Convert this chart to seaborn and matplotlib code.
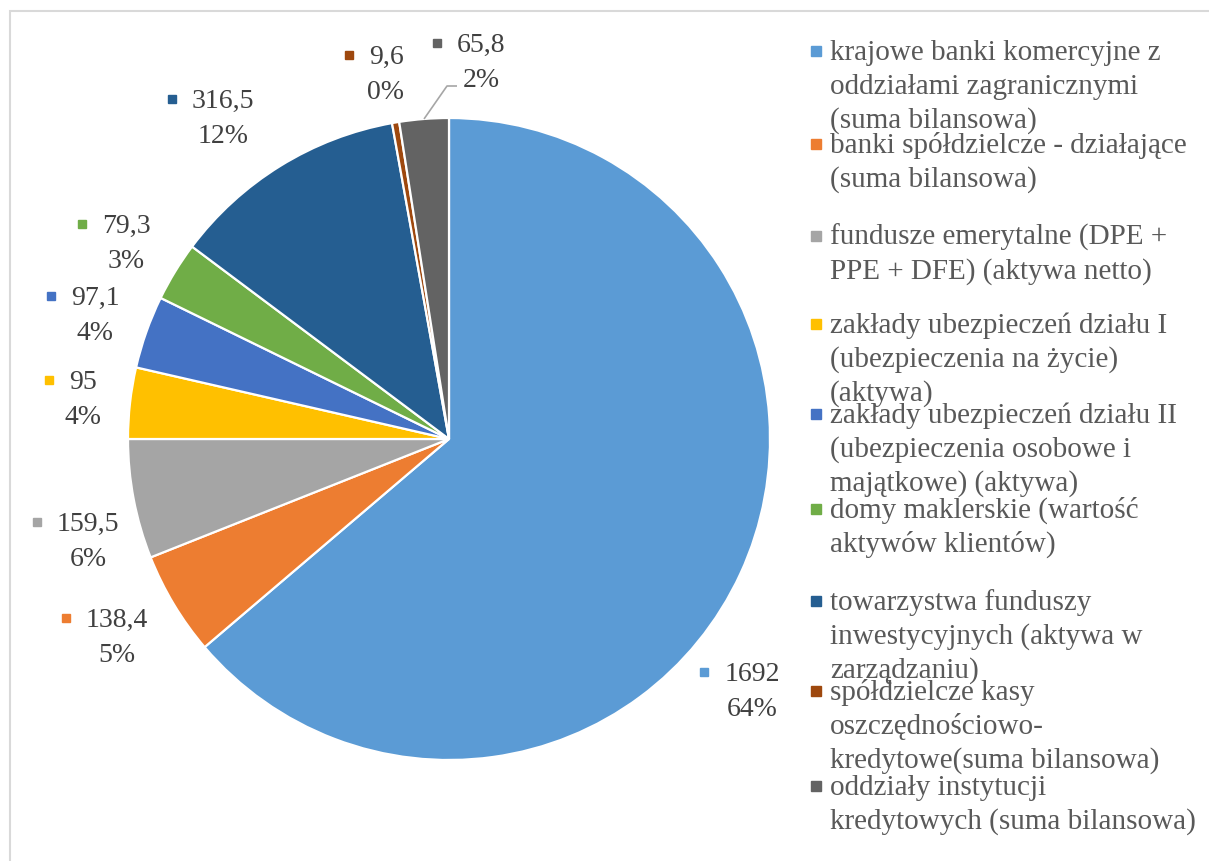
import matplotlib
matplotlib.use('Agg')
import matplotlib.pyplot as plt
import seaborn as sns
import numpy as np
from matplotlib.patches import Rectangle

# data (mld zł)
categories = [
    'krajowe banki komercyjne z oddziałami zagranicznymi (suma bilansowa)',
    'banki spółdzielcze - działające (suma bilansowa)',
    'fundusze emerytalne (DPE + PPE + DFE) (aktywa netto)',
    'zakłady ubezpieczeń działu I (ubezpieczenia na życie) (aktywa)',
    'zakłady ubezpieczeń działu II (ubezpieczenia osobowe i majątkowe) (aktywa)',
    'domy maklerskie (wartość aktywów klientów)',
    'towarzystwa funduszy inwestycyjnych (aktywa w zarządzaniu)',
    'spółdzielcze kasy oszczędnościowo-kredytowe(suma bilansowa)',
    'oddziały instytucji kredytowych (suma bilansowa)',
]
values = [1692, 138.4, 159.5, 95, 97.1, 79.3, 316.5, 9.6, 65.8]
colors = ['#5B9BD5', '#ED7D31', '#A5A5A5', '#FFC000', '#4472C4',
          '#70AD47', '#255E91', '#9E480E', '#636363']

# legend text wrapped like in the original
legend_lines = [
    ['krajowe banki komercyjne z', 'oddziałami zagranicznymi', '(suma bilansowa)'],
    ['banki spółdzielcze - działające', '(suma bilansowa)'],
    ['fundusze emerytalne (DPE +', 'PPE + DFE) (aktywa netto)'],
    ['zakłady ubezpieczeń działu I', '(ubezpieczenia na życie)', '(aktywa)'],
    ['zakłady ubezpieczeń działu II', '(ubezpieczenia osobowe i', 'majątkowe) (aktywa)'],
    ['domy maklerskie (wartość', 'aktywów klientów)'],
    ['towarzystwa funduszy', 'inwestycyjnych (aktywa w', 'zarządzaniu)'],
    ['spółdzielcze kasy', 'oszczędnościowo-', 'kredytowe(suma bilansowa)'],
    ['oddziały instytucji', 'kredytowych (suma bilansowa)'],
]

# layout (pixels from top-left)
W, H = 1209, 862
label_pos = [(752, 673), (117, 619), (88, 523), (83, 381), (95, 297),
             (126, 225), (223, 100), (386, 56), (481, 44)]
legend_y = [52, 145, 237, 325, 415, 510, 602, 692, 787]
line_h = 34

sns.set_theme(style='white')
plt.rcParams['font.family'] = ['Liberation Serif', 'DejaVu Serif']

fig = plt.figure(figsize=(W / 100, H / 100), dpi=100)
ax = fig.add_axes([0, 0, 1, 1])

cx0, cy0, R = 449, H - 440, 321
ax.pie(values, colors=colors, startangle=90, counterclock=False,
       center=(cx0, cy0), radius=R,
       wedgeprops=dict(edgecolor='white', linewidth=1.6))
ax.set_xlim(0, W)
ax.set_ylim(0, H)
ax.set_aspect('equal')
ax.axis('off')

total = sum(values)


def fmt(v):
    return f'{v:g}'.replace('.', ',')


# data labels
val_texts = []
for v, (lx, ly), c in zip(values, label_pos, colors):
    t = ax.text(lx, H - ly - 8, fmt(v), ha='center', va='baseline',
                fontsize=20, color='#404040')
    ax.text(lx, H - ly - 8 - 35, f'{round(v / total * 100):.0f}%',
            ha='center', va='baseline', fontsize=20, color='#404040')
    val_texts.append((t, H - ly, c))

# leader line for the last slice
frac_mid = (total - values[-1] / 2) / total
ang = np.deg2rad(90 - frac_mid * 360)
ex, ey = cx0 + R * np.cos(ang), cy0 + R * np.sin(ang)
ax.plot([ex, 447, 457], [ey, H - 87, H - 87], color='#a6a6a6', lw=1.2,
        solid_capstyle='butt')

# legend drawn by hand (entries overlap slightly, as in the original)
for lines, y, c in zip(legend_lines, legend_y, colors):
    ax.plot(816, H - y, marker='s', ms=6.5, color=c, linestyle='none')
    for i, s in enumerate(lines):
        ax.text(830, H - y - 8 - i * line_h, s, ha='left', va='baseline',
                fontsize=21, color='#595959')

fig.canvas.draw()
for t, y, c in val_texts:
    bb = t.get_window_extent()
    ax.plot(bb.x0 - 20, y, marker='s', ms=6, color=c, linestyle='none')

ax.add_patch(Rectangle((10, -20), W + 20, H - 12 + 20, fill=False,
                       edgecolor='#d9d9d9', lw=1.5, clip_on=False))

fig.savefig('out.png', dpi=100, facecolor='white')
